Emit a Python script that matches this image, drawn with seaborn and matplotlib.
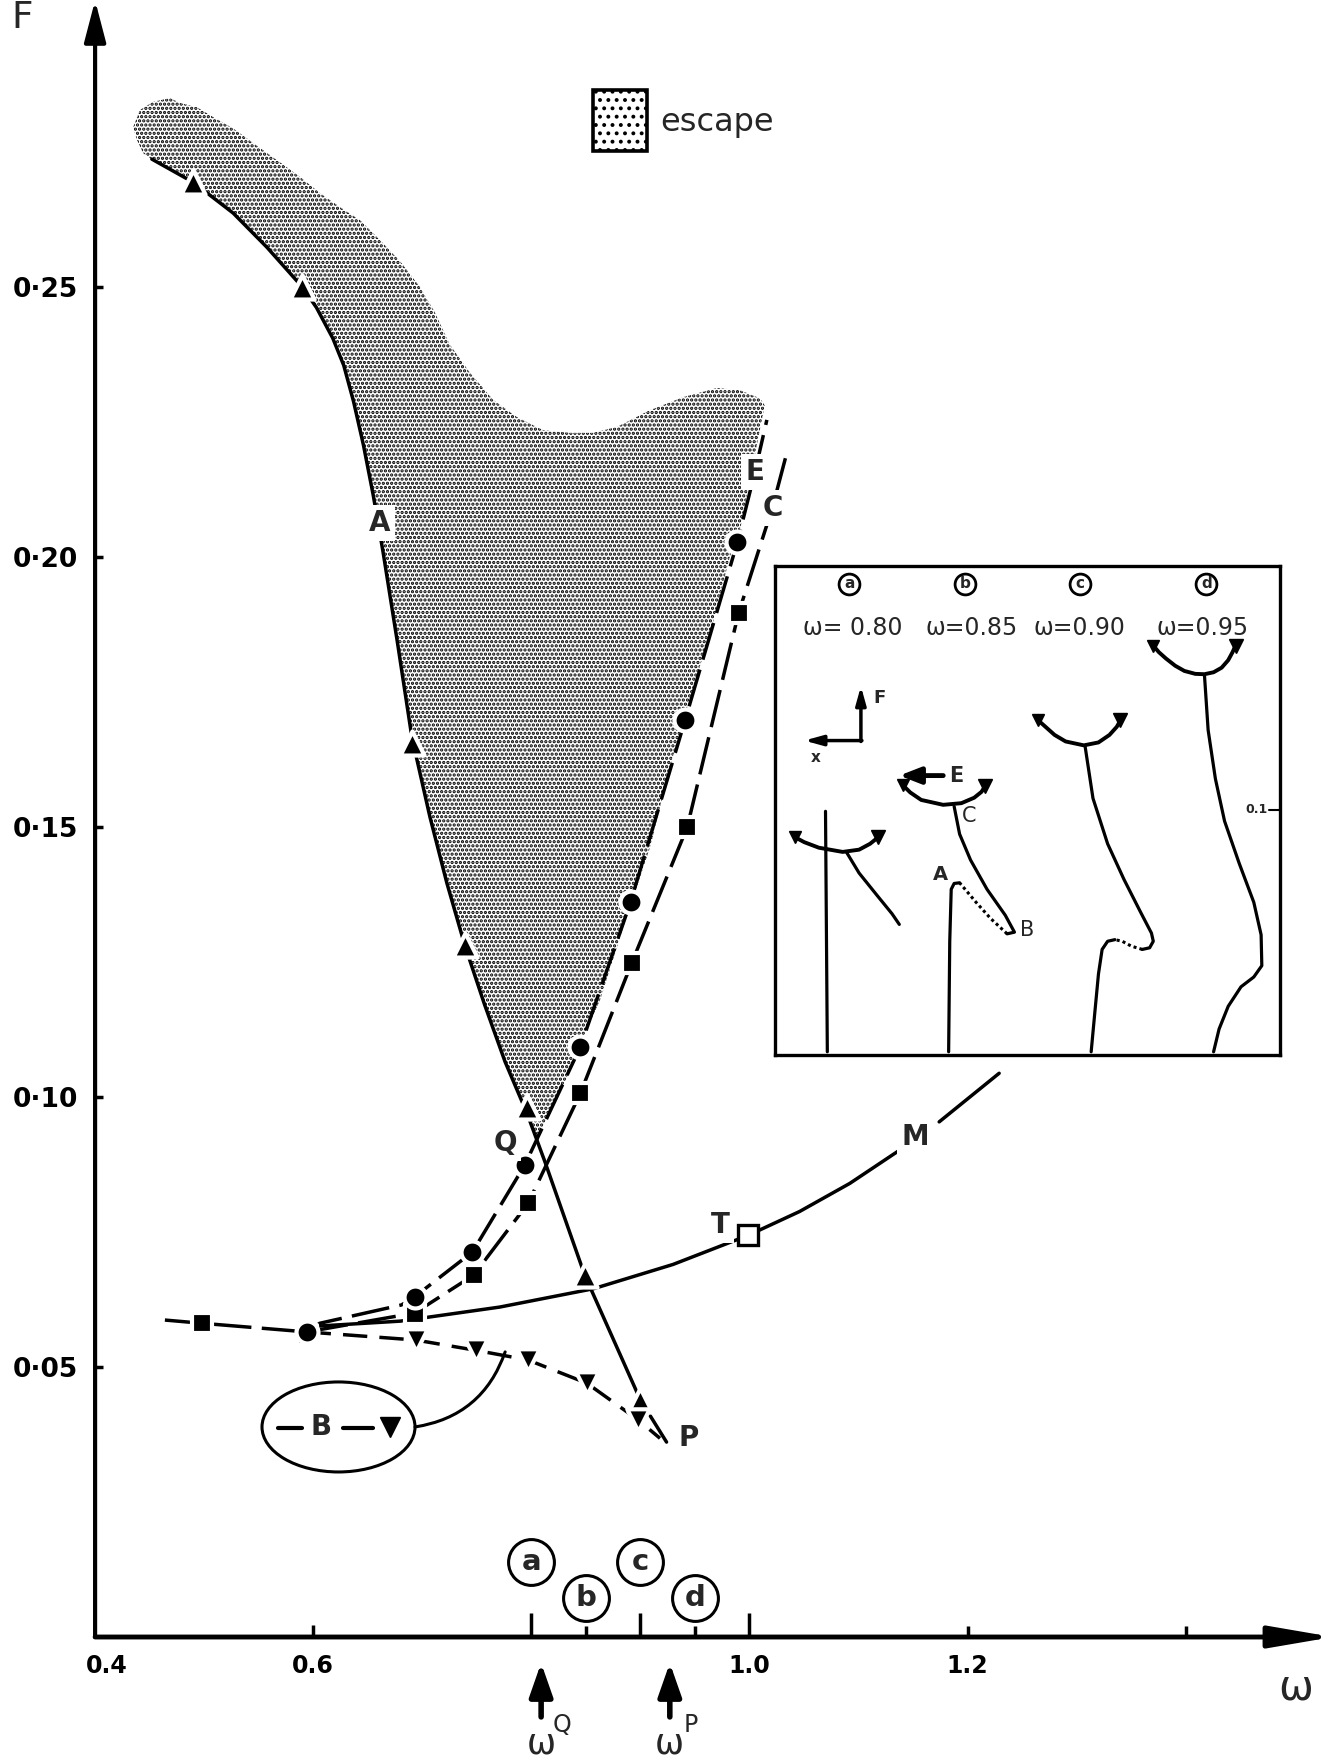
import matplotlib
matplotlib.use("Agg")
import matplotlib.pyplot as plt
import seaborn as sns
from matplotlib.patches import Ellipse, Rectangle, Polygon
from matplotlib.transforms import ScaledTranslation

sns.set_theme(style="white")
plt.rcParams["font.family"] = ["DejaVu Sans"]
plt.rcParams["hatch.linewidth"] = 1.6
INK = "black"

# ---------------- main diagram data (omega, F) ----------------
# curve A (solid, triangles)
a_line_w = [0.452, 0.490, 0.5266, 0.5574, 0.5786, 0.590, 0.603, 0.618, 0.628, 0.637, 0.646,
            0.655, 0.664, 0.677, 0.6905, 0.707, 0.7226, 0.739, 0.757, 0.776, 0.796,
            0.8125, 0.849, 0.900, 0.924]
a_line_f = [0.2737, 0.2694, 0.2637, 0.2574, 0.2526, 0.250, 0.2462, 0.2405, 0.2355, 0.2288, 0.2208,
            0.2115, 0.2010, 0.1845, 0.1666, 0.1519, 0.1396, 0.1281, 0.1172, 0.1065, 0.097,
            0.088, 0.067, 0.0439, 0.0361]
a_mark_w = [0.490, 0.590, 0.6905, 0.739, 0.796, 0.849, 0.900]
a_mark_f = [0.2694, 0.250, 0.1656, 0.1281, 0.0981, 0.067, 0.0439]

# curve E (dashed, circles)
e_line_w = [0.594, 0.606, 0.681, 0.693, 0.746, 0.794, 0.845, 0.891, 0.941, 0.989, 1.005, 1.016]
e_line_f = [0.0565, 0.0581, 0.0615, 0.063, 0.0713, 0.0874, 0.1093, 0.1361, 0.1698, 0.2028, 0.2157, 0.2254]
e_mark_w = [0.594, 0.693, 0.746, 0.794, 0.845, 0.891, 0.941, 0.989]
e_mark_f = [0.0565, 0.063, 0.0713, 0.0874, 0.1093, 0.1361, 0.1698, 0.2028]

# curve C (dashed, squares)
c_line_w = [0.464, 0.498, 0.594, 0.693, 0.747, 0.797, 0.845, 0.892, 0.943, 0.990, 1.021, 1.033]
c_line_f = [0.0587, 0.0581, 0.0565, 0.0600, 0.067, 0.0803, 0.1007, 0.1248, 0.150, 0.1896, 0.2091, 0.2183]
c_mark_w = [0.498, 0.594, 0.693, 0.747, 0.797, 0.845, 0.892, 0.943, 0.990]
c_mark_f = [0.0581, 0.0560, 0.0598, 0.067, 0.0803, 0.1007, 0.1248, 0.150, 0.1896]

# curve B (dashed, inverted triangles)
b_line_w = [0.594, 0.694, 0.749, 0.797, 0.851, 0.898, 0.918]
b_line_f = [0.0565, 0.0550, 0.0531, 0.0513, 0.0470, 0.0402, 0.0368]
b_mark_w = [0.694, 0.749, 0.797, 0.851, 0.898]
b_mark_f = [0.0550, 0.0531, 0.0513, 0.0470, 0.0402]

# curve M (solid, then one long dash past the label)
m_line_w = [0.594, 0.606, 0.680, 0.771, 0.857, 0.930, 0.999, 1.046, 1.092, 1.138]
m_line_f = [0.0565, 0.0576, 0.0585, 0.0611, 0.0645, 0.0690, 0.0744, 0.0788, 0.0840, 0.0902]
m_tail_w = [1.174, 1.229]
m_tail_f = [0.0954, 0.1044]
t_point = (0.999, 0.0744)

# escape region outline
esc_w = [0.805, 0.796, 0.776, 0.757, 0.739, 0.7226, 0.707, 0.6905, 0.677, 0.664,
         0.655, 0.646, 0.637, 0.628, 0.618, 0.603, 0.590, 0.5786, 0.5574, 0.5266, 0.490, 0.452,
         0.444, 0.4385, 0.4348, 0.4412, 0.4531, 0.4687, 0.4778, 0.4934, 0.5081, 0.5264,
         0.5448, 0.5668, 0.5879, 0.6062, 0.6246, 0.6429, 0.6612, 0.6796, 0.6979, 0.711,
         0.7254, 0.7438, 0.765, 0.787, 0.8107, 0.8355, 0.8565, 0.8785, 0.9088, 0.939,
         0.9701, 0.9912, 1.0096, 1.014, 0.992, 0.982, 0.964, 0.945, 0.927, 0.909, 0.886,
         0.8631, 0.8494, 0.8329, 0.8173]
esc_f = [0.092, 0.097, 0.1065, 0.1172, 0.1281, 0.1396, 0.1519, 0.1666, 0.1845, 0.2010,
         0.2115, 0.2208, 0.2288, 0.2355, 0.2405, 0.2462, 0.250, 0.2526, 0.2574, 0.2637, 0.2694, 0.2737,
         0.2748, 0.2772, 0.2796, 0.2828, 0.2843, 0.285, 0.2841, 0.2833, 0.2815, 0.2794,
         0.2767, 0.2735, 0.2704, 0.2674, 0.2648, 0.2624, 0.2587, 0.2548, 0.250, 0.2455,
         0.2393, 0.2341, 0.2291, 0.2259, 0.2235, 0.223, 0.223, 0.2241, 0.2272, 0.2296,
         0.2313, 0.2309, 0.2294, 0.2281, 0.2056, 0.200, 0.1859, 0.1735, 0.1611, 0.1463, 0.1325,
         0.118, 0.1119, 0.1037, 0.0976]

# axis ticks
y_ticks = [0.05, 0.10, 0.15, 0.20, 0.25]
y_tick_labels = ["0·05", "0·10", "0·15", "0·20", "0·25"]
x_ticks = [0.4, 0.6, 0.8, 0.9, 1.0, 1.2, 1.4]
x_tick_labels = ["0.4", "0.6", "", "", "1.0", "1.2", ""]
x_tick_len = [0, 9, 17, 17, 17, 8, 8]
x_minor = [0.85, 0.95]

# circled case markers along the omega axis
case_letters = ["a", "b", "c", "d"]
case_w = [0.80, 0.85, 0.90, 0.95]
case_f = [0.0139, 0.0073, 0.0139, 0.0073]
omega_q = 0.809
omega_p = 0.927

# point labels
point_labels = [("A", 0.661, 0.2063), ("E", 1.005, 0.2157), ("C", 1.021, 0.2091),
                ("Q", 0.776, 0.0915), ("T", 0.973, 0.0763), ("M", 1.152, 0.0926),
                ("P", 0.944, 0.0369)]

# ---------------- figure ----------------
fig = plt.figure(figsize=(13.4, 17.61), dpi=100)
fig.patch.set_facecolor("white")
ax = fig.add_axes([0.07097, 0.07041, 0.9237, 0.9294])
ax.set_xlim(0.4, 1.535)
ax.set_ylim(0.0, 0.3031)
ax.patch.set_alpha(0)
for sp in ax.spines.values():
    sp.set_visible(False)

# escape region, stippled
ax.add_patch(Polygon(list(zip(esc_w, esc_f)), closed=True, facecolor="none",
                     edgecolor=INK, lw=0, hatch="....", zorder=1))

LW = 2.5
sns.lineplot(x=a_line_w, y=a_line_f, sort=False, estimator=None, ax=ax, color=INK, lw=LW, zorder=3)
sns.lineplot(x=e_line_w, y=e_line_f, sort=False, estimator=None, ax=ax, color=INK, lw=LW,
             linestyle=(0, (11, 3)), zorder=3)
sns.lineplot(x=c_line_w, y=c_line_f, sort=False, estimator=None, ax=ax, color=INK, lw=LW,
             linestyle=(0, (11, 3)), zorder=3)
sns.lineplot(x=b_line_w, y=b_line_f, sort=False, estimator=None, ax=ax, color=INK, lw=LW,
             linestyle=(0, (7, 3.5)), zorder=3)
sns.lineplot(x=m_line_w, y=m_line_f, sort=False, estimator=None, ax=ax, color=INK, lw=LW, zorder=3)
sns.lineplot(x=m_tail_w, y=m_tail_f, sort=False, estimator=None, ax=ax, color=INK, lw=LW, zorder=3)

mk = dict(ax=ax, color=INK, edgecolor="white", linewidth=3, zorder=5, legend=False)
sns.scatterplot(x=a_mark_w, y=a_mark_f, marker="^", s=300, **mk)
sns.scatterplot(x=c_mark_w, y=c_mark_f, marker="s", s=210, **mk)
sns.scatterplot(x=e_mark_w, y=e_mark_f, marker="o", s=250, **mk)
sns.scatterplot(x=b_mark_w, y=b_mark_f, marker="v", s=260, **mk)
ax.plot([t_point[0]], [t_point[1]], marker="s", ms=15, mfc="white", mec=INK, mew=2.4, zorder=6)

for txt, w, f in point_labels:
    ax.text(w, f, txt, fontsize=20, fontweight="bold", ha="center", va="center", zorder=7,
            bbox=dict(boxstyle="square,pad=0.15", fc="white", ec="none"))

# legend for escape
ax.add_patch(Rectangle((0.8566, 0.2752), 0.0494, 0.0113, facecolor="white", edgecolor=INK,
                       lw=2.6, hatch="..", zorder=4))
ax.text(0.918, 0.2804, "escape", fontsize=23, ha="left", va="center")

# key for curve B
ax.add_patch(Ellipse((0.6232, 0.0389), 0.1403, 0.01667, facecolor="white", edgecolor=INK, lw=2.2, zorder=4))
ax.plot([0.568, 0.590], [0.0387, 0.0387], color=INK, lw=3, zorder=5)
ax.plot([0.627, 0.655], [0.0387, 0.0387], color=INK, lw=3, zorder=5)
ax.text(0.607, 0.0388, "B", fontsize=20, fontweight="bold", ha="center", va="center", zorder=5)
ax.plot([0.670], [0.0389], marker="v", ms=14, color=INK, zorder=5)
ax.annotate("", xy=(0.776, 0.0528), xytext=(0.6934, 0.0389),
            arrowprops=dict(arrowstyle="-", connectionstyle="arc3,rad=0.3", lw=2.2, color=INK,
                            shrinkA=0, shrinkB=0), zorder=4)

# axes with arrowheads
ax.annotate("", xy=(0.4, 0.3031), xytext=(0.4, 0.0), annotation_clip=False,
            arrowprops=dict(arrowstyle="-|>,head_length=1.15,head_width=0.3", color=INK, lw=3,
                            mutation_scale=22, shrinkA=0, shrinkB=0))
ax.annotate("", xy=(1.535, 0.0), xytext=(0.4, 0.0), annotation_clip=False,
            arrowprops=dict(arrowstyle="-|>,head_length=1.75,head_width=0.3", color=INK, lw=3.5,
                            mutation_scale=22, shrinkA=0, shrinkB=0))

ax.set_yticks(y_ticks, labels=y_tick_labels)
ax.tick_params(axis="y", direction="in", left=True, length=6, width=2.5, pad=12,
               labelsize=19, color=INK, labelcolor=INK)
ax.set_xticks(x_ticks, labels=x_tick_labels)
ax.set_xticks(x_minor, minor=True)
ax.tick_params(axis="x", which="both", direction="in", bottom=True, width=2.5, pad=12,
               labelsize=17, color=INK, labelcolor=INK)
ax.tick_params(axis="x", which="minor", length=8)
for tk, ln in zip(ax.xaxis.get_major_ticks(), x_tick_len):
    tk.tick1line.set_markersize(ln)
for lbl in ax.get_xticklabels() + ax.get_yticklabels():
    lbl.set_fontweight("bold")
ax.get_xticklabels()[0].set_transform(ax.get_xticklabels()[0].get_transform()
                                      + ScaledTranslation(0.12, 0, fig.dpi_scale_trans))
ax.grid(False)

# circled cases and the omega^Q, omega^P markers
ax.plot(case_w, case_f, linestyle="none", marker="o", ms=33, mfc="white", mec=INK, mew=2.2,
        clip_on=False, zorder=4)
for let, w, f in zip(case_letters, case_w, case_f):
    ax.text(w, f, let, fontsize=21, fontweight="bold", ha="center", va="center", zorder=5)
for w, sup in [(omega_q, "Q"), (omega_p, "P")]:
    ax.annotate("", xy=(w, -0.0048), xytext=(w, -0.0148), annotation_clip=False,
                arrowprops=dict(arrowstyle="-|>,head_length=1.0,head_width=0.35", color=INK, lw=4,
                                mutation_scale=20, shrinkA=0, shrinkB=0))
    ax.text(w, -0.0197, "ω", fontsize=25, ha="center", va="center", clip_on=False)
    ax.text(w + 0.019, -0.0163, sup, fontsize=17, ha="center", va="center", clip_on=False)

fig.text(0.0164, 0.9898, "F", fontsize=27, ha="center", va="center")
fig.text(0.967, 0.042, "ω", fontsize=30, ha="center", va="center")

# ---------------- inset: phase portraits for four omegas ----------------
ins = fig.add_axes([0.5784, 0.4009, 0.3769, 0.2777])
ins.set_xlim(0, 1)
ins.set_ylim(0, 1)
ins.set_xticks([])
ins.set_yticks([])
ins.set_facecolor("white")
for sp in ins.spines.values():
    sp.set_visible(True)
    sp.set_color(INK)
    sp.set_linewidth(2.4)

inset_cases = ["a", "b", "c", "d"]
inset_case_u = [0.1469, 0.3763, 0.6042, 0.8538]
inset_omega = ["ω= 0.80", "ω=0.85", "ω=0.90", "ω=0.95"]
inset_omega_u = [0.1534, 0.3893, 0.6027, 0.8466]

ins.plot(inset_case_u, [0.9635] * 4, linestyle="none", marker="o", ms=15, mfc="white", mec=INK, mew=2.0)
for let, u in zip(inset_cases, inset_case_u):
    ins.text(u, 0.9635, let, fontsize=11, fontweight="bold", ha="center", va="center")
for txt, u in zip(inset_omega, inset_omega_u):
    ins.text(u, 0.8738, txt, fontsize=17, ha="center", va="center")

# F / x orientation key
small_arrow = dict(arrowstyle="-|>,head_length=0.9,head_width=0.25", color=INK, lw=2.5,
                   mutation_scale=12, shrinkA=0, shrinkB=0)
ins.annotate("", xy=(0.170, 0.7542), xytext=(0.170, 0.6412), arrowprops=small_arrow)
ins.annotate("", xy=(0.0579, 0.643), xytext=(0.172, 0.643), arrowprops=small_arrow)
ins.text(0.2062, 0.7309, "F", fontsize=13, fontweight="bold", ha="center", va="center")
ins.text(0.081, 0.608, "x", fontsize=11, fontweight="bold", ha="center", va="center")

# case a
pa_stem_u = [0.0999, 0.1035]
pa_stem_v = [0.4983, 0.0066]
pa_arc_u = [0.0398, 0.0579, 0.0868, 0.1339, 0.1664, 0.1881, 0.2041]
pa_arc_v = [0.4452, 0.4352, 0.4239, 0.4153, 0.4199, 0.4319, 0.4452]
pa_br_u = [0.1411, 0.1664, 0.2026, 0.2315, 0.2460]
pa_br_v = [0.4153, 0.3721, 0.3256, 0.2890, 0.2671]
# case b
pb_arc_u = [0.2533, 0.2677, 0.2894, 0.3329, 0.3690, 0.3944, 0.4088, 0.4161]
pb_arc_v = [0.5515, 0.5369, 0.5216, 0.5116, 0.5150, 0.5262, 0.5382, 0.5502]
pb_c_u = [0.3546, 0.3654, 0.3871, 0.4197, 0.4559, 0.4740, 0.4595]
pb_c_v = [0.5083, 0.4518, 0.3987, 0.3389, 0.2857, 0.2512, 0.2478]
pb_dot_u = [0.4595, 0.4269, 0.3980, 0.3763, 0.3654]
pb_dot_v = [0.2478, 0.2791, 0.3123, 0.3389, 0.3522]
pb_a_u = [0.3654, 0.3546, 0.3488, 0.3459, 0.3437]
pb_a_v = [0.3522, 0.3508, 0.3389, 0.2326, 0.0066]
# case c
pc_arc_u = [0.5210, 0.5355, 0.5535, 0.5753, 0.6114, 0.6404, 0.6621, 0.6766, 0.6838]
pc_arc_v = [0.6844, 0.6711, 0.6545, 0.6412, 0.6332, 0.6392, 0.6545, 0.6711, 0.6844]
pc_br_u = [0.6136, 0.6295, 0.6585, 0.6910, 0.7236, 0.7453, 0.7489, 0.7417, 0.7272]
pc_br_v = [0.6332, 0.5249, 0.4319, 0.3588, 0.2924, 0.2492, 0.2326, 0.2193, 0.2159]
pc_dot_u = [0.7272, 0.7055, 0.6874, 0.6729]
pc_dot_v = [0.2159, 0.2226, 0.2326, 0.2359]
pc_low_u = [0.6729, 0.6585, 0.6476, 0.6404, 0.6331, 0.6259]
pc_low_v = [0.2359, 0.2326, 0.2159, 0.1661, 0.0864, 0.0066]
# case d
pd_arc_u = [0.7489, 0.7598, 0.7742, 0.7923, 0.8104, 0.8321, 0.8502, 0.8683, 0.8842, 0.8972,
            0.9059, 0.9117]
pd_arc_v = [0.8372, 0.8239, 0.8106, 0.7960, 0.7854, 0.7794, 0.7787, 0.7827, 0.7920, 0.8073,
            0.8239, 0.8372]
pd_br_u = [0.8502, 0.8575, 0.8719, 0.8900, 0.9190, 0.9479, 0.9624, 0.9638, 0.9479, 0.9226,
           0.8973, 0.8792, 0.8683]
pd_br_v = [0.7774, 0.6645, 0.5648, 0.4784, 0.3920, 0.3123, 0.2458, 0.1827, 0.1595, 0.1395,
           0.0997, 0.0532, 0.0066]

solid_sets = [(pa_stem_u, pa_stem_v), (pa_br_u, pa_br_v), (pb_c_u, pb_c_v), (pb_a_u, pb_a_v),
              (pc_br_u, pc_br_v), (pc_low_u, pc_low_v), (pd_br_u, pd_br_v)]
for uu, vv in solid_sets:
    sns.lineplot(x=uu, y=vv, sort=False, estimator=None, ax=ins, color=INK, lw=2.3)
arc_sets = [(pa_arc_u, pa_arc_v), (pb_arc_u, pb_arc_v), (pc_arc_u, pc_arc_v), (pd_arc_u, pd_arc_v)]
for uu, vv in arc_sets:
    sns.lineplot(x=uu, y=vv, sort=False, estimator=None, ax=ins, color=INK, lw=2.8)
    # arrowheads at both ends of each arc
    ins.plot([uu[0]], [vv[0]], marker="v", ms=8, color=INK)
    ins.plot([uu[-1]], [vv[-1]], marker="v", ms=10, color=INK)
for uu, vv in [(pb_dot_u, pb_dot_v), (pc_dot_u, pc_dot_v)]:
    sns.lineplot(x=uu, y=vv, sort=False, estimator=None, ax=ins, color=INK, lw=2.2,
                 linestyle=(0, (1, 1)))

ins.annotate("", xy=(0.246, 0.5714), xytext=(0.3329, 0.5714),
             arrowprops=dict(arrowstyle="-|>,head_length=0.9,head_width=0.35", color=INK, lw=3.5,
                             mutation_scale=14, shrinkA=0, shrinkB=0))
ins.text(0.3582, 0.5714, "E", fontsize=15, fontweight="bold", ha="center", va="center")
ins.text(0.3835, 0.4884, "C", fontsize=15, ha="center", va="center")
ins.text(0.3278, 0.3688, "A", fontsize=14, fontweight="bold", ha="center", va="center")
ins.text(0.4993, 0.2558, "B", fontsize=15, ha="center", va="center")
ins.text(0.9537, 0.5017, "0.1", fontsize=9, fontweight="bold", ha="center", va="center")
ins.plot([0.978, 1.0], [0.5017, 0.5017], color=INK, lw=1.5)

fig.savefig("out.png", dpi=100, facecolor="white")
